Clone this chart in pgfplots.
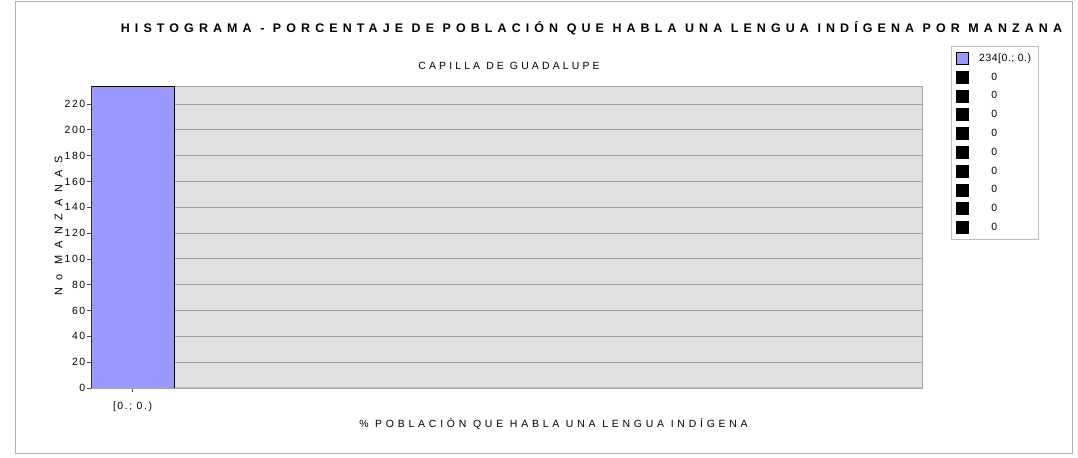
\documentclass[border=0pt]{standalone}
\usepackage{pgfplots}
\pgfplotsset{compat=1.18}
\usepackage{fontspec}
\setmainfont{Liberation Sans}
\newfontfamily\titlefont[LetterSpace=41]{Liberation Sans}
\newfontfamily\spfont[LetterSpace=30]{Liberation Sans}
\newfontfamily\xlabfont[LetterSpace=36]{Liberation Sans}
\newfontfamily\tickfont[LetterSpace=15]{Liberation Sans}
\newfontfamily\legfont[LetterSpace=5]{Liberation Sans}
\newfontfamily\ylabfont[LetterSpace=62]{Liberation Sans}
\definecolor{barblue}{HTML}{9999FF}
\definecolor{plotbg}{HTML}{E0E0E0}
\definecolor{gridc}{HTML}{A0A0A0}
\begin{document}
\begin{tikzpicture}[x=1bp,y=1bp]
\useasboundingbox (0,0) rectangle (1078,458);
\draw[gray!60, line width=0.8bp] (15.5,4.5) rectangle (1072.5,456.5);
\begin{axis}[
  at={(91bp,70bp)}, anchor=south west,
  width=831bp, height=302bp, scale only axis,
  xmin=0, xmax=10, ymin=0, ymax=234,
  ybar, bar width=1, bar shift=0pt,
  legend image code/.code={\draw[#1] (0bp,-6bp) rectangle (12bp,6bp);},
  axis background/.style={fill=plotbg},
  ymajorgrids, grid style={gridc, line width=0.9bp},
  ytick={0,20,...,220},
  xtick={0.5}, xticklabels={{[0.; 0.)}},
  xtick pos=bottom, ytick pos=left,
  tick align=outside, major tick length=4.5bp,
  tick style={black!70, line width=0.8bp},
  axis line style={gray!70, line width=0.8bp},
  ticklabel style={font=\tickfont\fontsize{10.5}{12}\selectfont},
  yticklabel style={inner xsep=1bp},
  xticklabel style={yshift=-6bp},
  /pgf/number format/assume math mode=true,
  legend cell align=left,
  legend style={at={(1.0349,1.1325)}, anchor=north west,
    draw=gray!50, line width=0.8bp, fill=white,
    font=\legfont\fontsize{10.5}{12}\selectfont,
    row sep=4.8bp, column sep=8bp, inner xsep=5bp, inner ysep=5bp,
    nodes={inner sep=2bp, text height=8bp, text depth=2bp}},
]
\addplot[fill=barblue, draw=black, line width=0.8bp] coordinates {(0.5,234)};
\addlegendentry{234[0.; 0.)}
\addplot[fill=black, draw=black, line width=0.8bp] coordinates {(1.5,0)};
\addlegendentry{\phantom{23}0}
\addplot[fill=black, draw=black, line width=0.8bp] coordinates {(2.5,0)};
\addlegendentry{\phantom{23}0}
\addplot[fill=black, draw=black, line width=0.8bp] coordinates {(3.5,0)};
\addlegendentry{\phantom{23}0}
\addplot[fill=black, draw=black, line width=0.8bp] coordinates {(4.5,0)};
\addlegendentry{\phantom{23}0}
\addplot[fill=black, draw=black, line width=0.8bp] coordinates {(5.5,0)};
\addlegendentry{\phantom{23}0}
\addplot[fill=black, draw=black, line width=0.8bp] coordinates {(6.5,0)};
\addlegendentry{\phantom{23}0}
\addplot[fill=black, draw=black, line width=0.8bp] coordinates {(7.5,0)};
\addlegendentry{\phantom{23}0}
\addplot[fill=black, draw=black, line width=0.8bp] coordinates {(8.5,0)};
\addlegendentry{\phantom{23}0}
\addplot[fill=black, draw=black, line width=0.8bp] coordinates {(9.5,0)};
\addlegendentry{\phantom{23}0}
\draw[black!80, line width=0.9bp] (rel axis cs:0,0) -- (rel axis cs:0,1);
\end{axis}
\node[font=\titlefont\bfseries\fontsize{12.5}{14}\selectfont] at (591.5,430) {HISTOGRAMA - PORCENTAJE DE POBLACIÓN QUE HABLA UNA LENGUA INDÍGENA POR MANZANA};
\node[font=\spfont\fontsize{10.5}{12}\selectfont] at (509,392) {CAPILLA DE GUADALUPE};
\node[font=\xlabfont\fontsize{10.5}{12}\selectfont] at (553.5,34) {\% POBLACIÓN QUE HABLA UNA LENGUA INDÍGENA};
\node[rotate=90, font=\ylabfont\fontsize{11}{13}\selectfont] at (58.5,232) {No MANZANAS};
\end{tikzpicture}
\end{document}
